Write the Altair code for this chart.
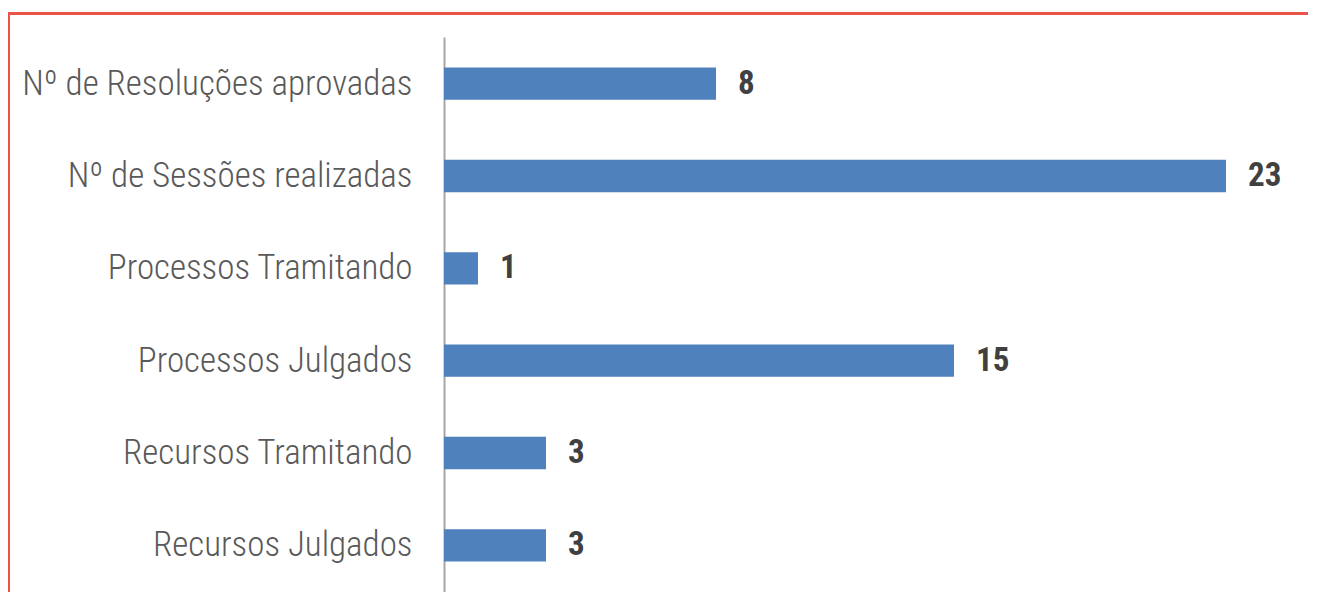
import altair as alt
import pandas as pd

categories = [
    "Nº de Resoluções aprovadas",
    "Nº de Sessões realizadas",
    "Processos Tramitando",
    "Processos Julgados",
    "Recursos Tramitando",
    "Recursos Julgados",
]
values = [8, 23, 1, 15, 3, 3]

df = pd.DataFrame({"categoria": categories, "valor": values})

FONT = "Roboto Condensed, Liberation Sans Narrow, DejaVu Sans Condensed, sans-serif"

y_enc = alt.Y(
    "categoria:N",
    sort=categories,
    title=None,
    scale=alt.Scale(paddingInner=0.65, paddingOuter=0.33),
    axis=alt.Axis(
        ticks=False,
        domainColor="#a6a6a6",
        domainWidth=2,
        labelFont=FONT,
        labelFontSize=35,
        labelFontWeight=300,
        labelColor="#595959",
        labelPadding=32,
        labelLimit=500,
    ),
)
x_enc = alt.X(
    "valor:Q",
    title=None,
    scale=alt.Scale(domain=[0, 25], nice=False),
    axis=None,
)

bars = alt.Chart(df).mark_bar(color="#4f81bd").encode(x=x_enc, y=y_enc)

labels = alt.Chart(df).mark_text(
    align="left",
    baseline="middle",
    dx=22,
    font=FONT,
    fontSize=33,
    fontWeight="bold",
    color="#404040",
).encode(x=x_enc, y=y_enc, text="valor:Q")

border_top = alt.Chart(df).mark_rule(color="#e8544a", strokeWidth=3).encode(
    x=alt.value(-436), x2=alt.value(900), y=alt.value(-23.5)
)
border_left = alt.Chart(df).mark_rule(color="#e8544a", strokeWidth=3).encode(
    x=alt.value(-435.5), y=alt.value(-25), y2=alt.value(600)
)

chart = (
    alt.layer(bars, labels, border_top, border_left)
    .properties(
        width=850,
        height=555,
        autosize=alt.AutoSizeParams(type="none"),
        padding={"left": 436, "top": 29, "right": 14, "bottom": 0},
    )
    .configure(background="#ffffff")
    .configure_view(stroke=None, strokeWidth=0)
)

chart.save("out.html", embed_options={"renderer": "svg", "actions": False})
